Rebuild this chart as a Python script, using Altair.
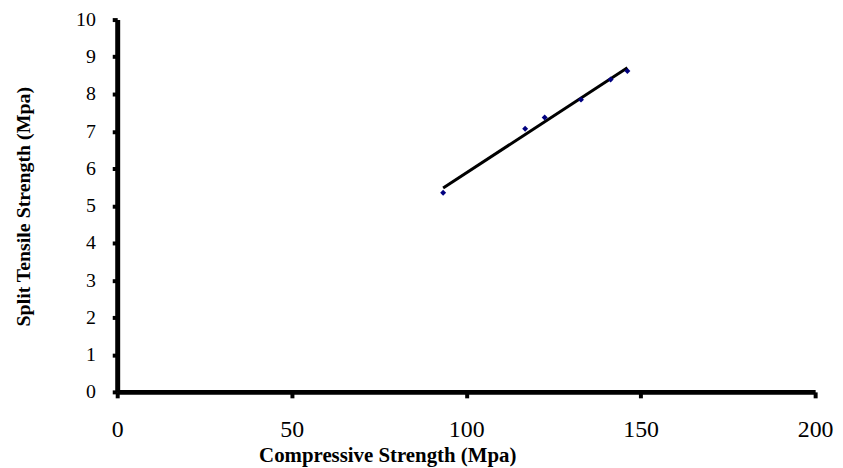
import altair as alt
import pandas as pd

compressive = [93.4, 116.9, 122.5, 132.9, 141.4, 146.2]
split_tensile = [5.35, 7.07, 7.37, 7.85, 8.39, 8.62]
x_ticks = [0, 50, 100, 150, 200]
y_ticks = [0, 1, 2, 3, 4, 5, 6, 7, 8, 9, 10]

df = pd.DataFrame({"x": compressive, "y": split_tensile})

FONT = "Liberation Serif"
W, H = 703, 375

xaxis = alt.Axis(
    title="Compressive Strength (Mpa)", values=x_ticks, grid=False,
    domainColor="black", domainWidth=5, tickColor="black", tickWidth=4, tickSize=6,
    labelFont=FONT, labelFontSize=24, labelColor="black", labelPadding=20,
    labelOverlap=False, labelFlush=False,
    titleFont=FONT, titleFontSize=21, titleFontWeight="bold", titleColor="black",
    titleX=272, titleY=70, titleAlign="center", titleBaseline="alphabetic",
)
yaxis = alt.Axis(
    title="Split Tensile Strength (Mpa)", values=y_ticks, grid=False,
    domainColor="black", domainWidth=5, tickColor="black", tickWidth=4, tickSize=5,
    labelFont=FONT, labelFontSize=20, labelColor="black", labelPadding=17,
    labelOverlap=False, labelFlush=False,
    titleFont=FONT, titleFontSize=20, titleFontWeight="bold", titleColor="black",
    titleX=-94, titleY=188, titleAngle=270, titleAlign="center", titleBaseline="middle",
)

base = alt.Chart(df).encode(
    x=alt.X("x:Q", scale=alt.Scale(domain=[0, 200], nice=False), axis=xaxis),
    y=alt.Y("y:Q", scale=alt.Scale(domain=[0, 10], nice=False), axis=yaxis),
)

line = base.mark_line(color="black", strokeWidth=3).transform_regression("x", "y")
points = base.mark_point(shape="diamond", filled=True, color="#00007F", size=36, opacity=1)

chart = alt.layer(line, points).properties(
    width=W, height=H,
    autosize=alt.AutoSizeParams(type="none"),
    padding={"left": 110, "top": 10, "right": 20, "bottom": 74},
    background="white",
).configure_view(stroke=None)

chart.save("out.html", embed_options={"renderer": "svg", "actions": False})
